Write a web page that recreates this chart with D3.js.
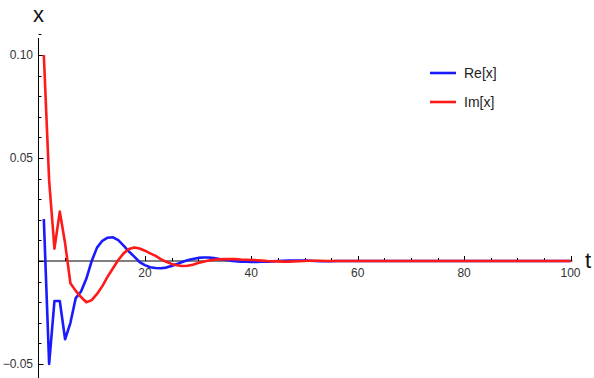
<!DOCTYPE html>
<html>
<head>
<meta charset="utf-8">
<script src="https://cdn.jsdelivr.net/npm/d3@7"></script>
<style>
  body { margin: 0; background: #fff; }
  svg { display: block; font-family: "Liberation Sans", Arial, sans-serif; }
</style>
</head>
<body>
<svg width="594" height="378"></svg>
<script>
// t = 1..100
var times = d3.range(1, 101);

var reValues = [
  0.0204, -0.0500, -0.0194, -0.0194, -0.0380, -0.0300, -0.0180, -0.0148, -0.0085, 0.0000,
  0.0065, 0.0098, 0.0113, 0.0115, 0.0101, 0.0075, 0.0046, 0.0021, -0.0005, -0.0020,
  -0.0030, -0.0034, -0.0035, -0.0032, -0.0024, -0.0015, -0.0005, 0.0004, 0.0010, 0.0015,
  0.0017, 0.0017, 0.0014, 0.0010, 0.0006, 0.0002, -0.0001, -0.0003, -0.0004, -0.0005,
  -0.0005, -0.0004, -0.0003, -0.0002, 0.0000, 0.0001, 0.0002, 0.0002, 0.0002, 0.0002,
  0.0001, 0.0000, -0.0001, -0.0001, -0.0001, 0.0000, 0.0000, 0.0000, 0.0000, 0.0000,
  0, 0, 0, 0, 0, 0, 0, 0, 0, 0,
  0, 0, 0, 0, 0, 0, 0, 0, 0, 0,
  0, 0, 0, 0, 0, 0, 0, 0, 0, 0,
  0, 0, 0, 0, 0, 0, 0, 0, 0, 0
];

var imValues = [
  0.1000, 0.0390, 0.0060, 0.0240, 0.0086, -0.0108, -0.0145, -0.0175, -0.0200, -0.0190,
  -0.0160, -0.0122, -0.0076, -0.0035, 0.0005, 0.0037, 0.0058, 0.0066, 0.0061, 0.0050,
  0.0037, 0.0025, 0.0009, -0.0004, -0.0014, -0.0021, -0.0024, -0.0023, -0.0018, -0.0010,
  -0.0004, 0.0002, 0.0006, 0.0008, 0.0009, 0.0009, 0.0009, 0.0007, 0.0006, 0.0005,
  0.0004, 0.0002, 0.0000, -0.0001, -0.0002, -0.0003, -0.0003, -0.0002, -0.0001, 0.0000,
  0.0001, 0.0001, 0.0001, 0.0000, 0.0000, 0.0000, 0.0000, 0.0000, 0.0000, 0.0000,
  0, 0, 0, 0, 0, 0, 0, 0, 0, 0,
  0, 0, 0, 0, 0, 0, 0, 0, 0, 0,
  0, 0, 0, 0, 0, 0, 0, 0, 0, 0,
  0, 0, 0, 0, 0, 0, 0, 0, 0, 0
];

var seriesNames = ["Re[x]", "Im[x]"];
var seriesColors = ["#1a1aff", "#ff1a1a"];
var xTickLabels = [20, 40, 60, 80, 100];
var yTickLabels = [-0.05, 0.05, 0.10];

var svg = d3.select("svg");

var x = d3.scaleLinear().domain([0, 100]).range([38.5, 570.5]);
var y = d3.scaleLinear().domain([-0.05, 0.10]).range([364, 55]);

var axisColor = "#000";
var labelColor = "#333";

// y axis line
svg.append("line")
    .attr("x1", x(0)).attr("x2", x(0))
    .attr("y1", 38).attr("y2", 378)
    .attr("stroke", axisColor).attr("stroke-width", 1);

// x axis line
svg.append("line")
    .attr("x1", x(0)).attr("x2", x(100) + 2)
    .attr("y1", y(0)).attr("y2", y(0))
    .attr("stroke", axisColor).attr("stroke-width", 1);

// y ticks (minor every 0.01)
var yMinor = d3.range(-6, 12).map(function(i) { return i / 100; });
svg.append("g").selectAll("line")
  .data(yMinor)
  .enter().append("line")
    .attr("x1", x(0))
    .attr("x2", function(d) { return x(0) + (Math.round(d * 100) % 5 === 0 ? 5 : 3); })
    .attr("y1", function(d) { return Math.round(y(d)) + 0.5; })
    .attr("y2", function(d) { return Math.round(y(d)) + 0.5; })
    .attr("stroke", axisColor);

svg.append("g").selectAll("text")
  .data(yTickLabels)
  .enter().append("text")
    .attr("x", 33)
    .attr("y", function(d) { return y(d); })
    .attr("dy", "0.35em")
    .attr("text-anchor", "end")
    .attr("font-size", 12)
    .attr("fill", labelColor)
    .text(function(d) { return d < 0 ? "\u22120.05" : d3.format(".2f")(d); });

// x ticks (minor every 5)
var xMinor = d3.range(5, 101, 5);
svg.append("g").selectAll("line")
  .data(xMinor)
  .enter().append("line")
    .attr("x1", function(d) { return Math.round(x(d)) + 0.5; })
    .attr("x2", function(d) { return Math.round(x(d)) + 0.5; })
    .attr("y1", y(0))
    .attr("y2", function(d) { return y(0) - (d % 20 === 0 ? 5 : 3); })
    .attr("stroke", axisColor);

svg.append("g").selectAll("text")
  .data(xTickLabels)
  .enter().append("text")
    .attr("x", function(d) { return x(d); })
    .attr("y", y(0) + 16)
    .attr("text-anchor", "middle")
    .attr("font-size", 12)
    .attr("fill", labelColor)
    .text(function(d) { return d; });

// axis labels
svg.append("text")
    .attr("x", x(0)).attr("y", 22)
    .attr("text-anchor", "middle")
    .attr("font-size", 22)
    .attr("fill", "#111")
    .text("x");

svg.append("text")
    .attr("x", 585).attr("y", y(0) + 7)
    .attr("font-size", 22)
    .attr("fill", "#111")
    .text("t");

// lines
var line = d3.line()
    .x(function(d) { return x(d[0]); })
    .y(function(d) { return y(d[1]); });

[reValues, imValues].forEach(function(vals, k) {
  svg.append("path")
    .datum(times.map(function(t, i) { return [t, vals[i]]; }))
    .attr("fill", "none")
    .attr("stroke", seriesColors[k])
    .attr("stroke-width", 2.6)
    .attr("stroke-linejoin", "round")
    .attr("d", line);
});

// legend
var legend = svg.append("g").selectAll("g")
  .data(seriesNames)
  .enter().append("g")
    .attr("transform", function(d, i) { return "translate(430," + (73 + i * 29) + ")"; });

legend.append("line")
    .attr("x1", 0).attr("x2", 26)
    .attr("stroke", function(d, i) { return seriesColors[i]; })
    .attr("stroke-width", 2.6);

legend.append("text")
    .attr("x", 34)
    .attr("dy", "0.35em")
    .attr("font-size", 14)
    .attr("fill", "#222")
    .text(function(d) { return d; });
</script>
</body>
</html>
